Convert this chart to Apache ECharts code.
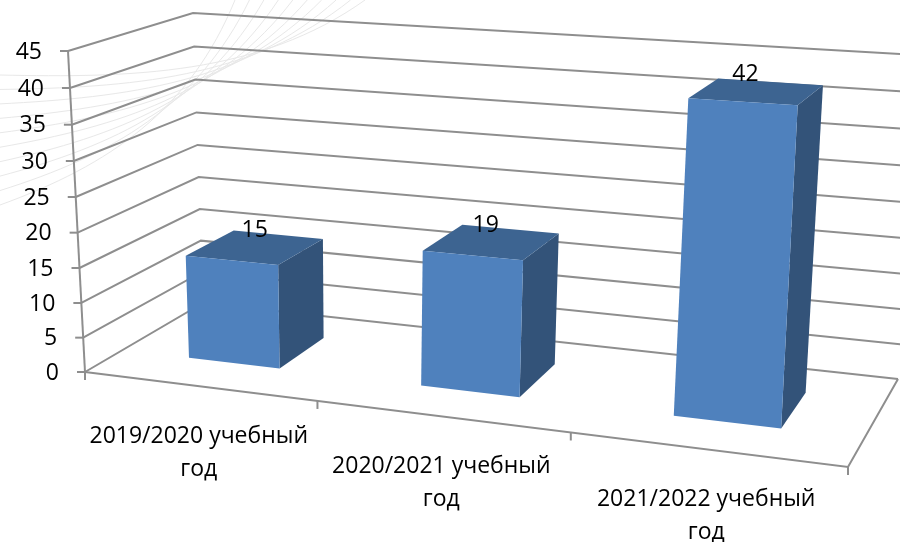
<!DOCTYPE html>
<html><head><meta charset="utf-8">
<style>html,body{margin:0;padding:0;background:#fff}#c{width:900px;height:542px}</style>
<script src="https://cdn.jsdelivr.net/npm/echarts@6/dist/echarts.min.js"></script>
</head><body><div id="c"></div>
<script>
var categories = ['2019/2020 учебный\nгод', '2020/2021 учебный\nгод', '2021/2022 учебный\nгод'];
var values = [15, 19, 42];
var yTicks = [0, 5, 10, 15, 20, 25, 30, 35, 40, 45];

// Scene: where the 3D box sits on the page (bottom / top of each vertical edge)
var FL = [[85,372],[68,51]], FR = [[848,467],[866,101.5]], BR = [[898,379],[918,55]], BL = [[203,303],[193,13]];
var depthFront = 0.30, depthBack = 0.72, vPersp = 0.043;
var grid = {left: 85, top: 51, width: 763, height: 321};
var FONT = '23px "Open Sans"', LINE = '#8e8e8e';

function lerp(e, t){ return [e[0][0]+(e[1][0]-e[0][0])*t, e[0][1]+(e[1][1]-e[0][1])*t]; }
function project(u, w, t){
  var s = t/(1+vPersp*(1-t));
  var p0=lerp(FL,s), p1=lerp(FR,s), p2=lerp(BR,s), p3=lerp(BL,s);
  var sx=p0[0]-p1[0]+p2[0]-p3[0], sy=p0[1]-p1[1]+p2[1]-p3[1];
  var dx1=p1[0]-p2[0], dx2=p3[0]-p2[0], dy1=p1[1]-p2[1], dy2=p3[1]-p2[1];
  var det=dx1*dy2-dx2*dy1;
  var g=(sx*dy2-dx2*sy)/det, h=(dx1*sy-sx*dy1)/det;
  var a=p1[0]-p0[0]+g*p1[0], b=p3[0]-p0[0]+h*p3[0];
  var d=p1[1]-p0[1]+g*p1[1], e=p3[1]-p0[1]+h*p3[1];
  var q=g*u+h*w+1;
  return [(a*u+b*w+p0[0])/q, (d*u+e*w+p0[1])/q];
}
function tOf(api, v){ return (grid.top+grid.height-api.coord([0,v])[1])/grid.height; }
function uOf(api, i){ return (api.coord([i,0])[0]-grid.left)/grid.width; }
function line(pts){ return {type:'polyline', shape:{points:pts}, style:{fill:null, stroke:LINE, lineWidth:2}}; }
function text(s,x,y,extra){
  var st={text:s,x:x,y:y,font:FONT,fill:'#000',align:'center',verticalAlign:'middle'};
  for(var k in extra) st[k]=extra[k];
  return {type:'text', style:st};
}

function renderWall(params, api){
  var v = api.value(0), t = tOf(api, v);
  var f = project(0,0,t), b = project(0,1,t), r = project(1,1,t);
  return {type:'group', children:[
    line([f,b,r]),
    line([[f[0]-8,f[1]],f]),
    text(String(v), f[0]-26, f[1]+1, {align:'right'})
  ]};
}
function renderBar(params, api){
  var i = api.value(0), v = api.value(1), t = tOf(api, v);
  var uc = uOf(api,i), hw = api.size([1,0])[0]/grid.width*0.2;
  var u0=uc-hw, u1=uc+hw;
  var a0=project(u0,depthFront,0), a1=project(u1,depthFront,0), b1=project(u1,depthBack,0);
  var A0=project(u0,depthFront,t), A1=project(u1,depthFront,t), B1=project(u1,depthBack,t), B0=project(u0,depthBack,t);
  var top=project(uc,(depthFront+depthBack)/2,t);
  var ft=project(uc,0,0);
  return {type:'group', children:[
    {type:'polygon',shape:{points:[a1,b1,B1,A1]},style:{fill:'#335379'}},
    {type:'polygon',shape:{points:[A0,A1,B1,B0]},style:{fill:'#3d6491'}},
    {type:'polygon',shape:{points:[a0,a1,A1,A0]},style:{fill:'#4f81bd'}},
    text(String(v), top[0]+2-16*uc, top[1]-17),
    text(categories[i], ft[0], ft[1]+34, {verticalAlign:'top', lineHeight:33})
  ]};
}
function renderFloor(params, api){
  var n = categories.length, kids=[];
  var o=project(0,0,0), e=project(1,0,0), r=project(1,1,0);
  kids.push(line([[o[0],o[1]],e,r]));
  kids.push(line([FL[0],FL[1]]));
  kids.push(line([[o[0]-8,o[1]],o]));
  for(var i=0;i<=n;i++){
    var p=project(i/n,0,0);
    kids.push(line([p,[p[0],p[1]+8]]));
  }
  return {type:'group',children:kids};
}

// faint decorative swoosh behind the plot
var swirl=[];
for(var k=0;k<10;k++){
  var m=k/9, s=205-130*m, en=235+130*m;
  swirl.push({type:'bezierCurve',z:0,silent:true,shape:{x1:0,y1:s,cpx1:110+20*m,cpy1:165-87*m,cpx2:190+70*m,cpy2:110-35*m,x2:en,y2:0},
    style:{fill:null,stroke:'#e8e8e8',lineWidth:1}});
}

var chart = echarts.init(document.getElementById('c'), null, {renderer:'canvas'});
chart.setOption({
  animation:false,
  backgroundColor:'#fff',
  grid:{left:grid.left,top:grid.top,width:grid.width,height:grid.height},
  xAxis:{type:'category',data:categories,show:false},
  yAxis:{type:'value',min:0,max:45,interval:5,show:false},
  graphic:{elements:swirl},
  series:[
    {type:'custom',z:2,clip:false,data:yTicks.map(function(v){return [v];}),encode:{x:-1,y:0},renderItem:renderWall},
    {type:'custom',z:3,clip:false,data:[[0,0]],renderItem:renderFloor},
    {type:'custom',z:4,clip:false,data:values.map(function(v,i){return [i,v];}),encode:{x:0,y:1},renderItem:renderBar}
  ]
});
</script></body></html>
